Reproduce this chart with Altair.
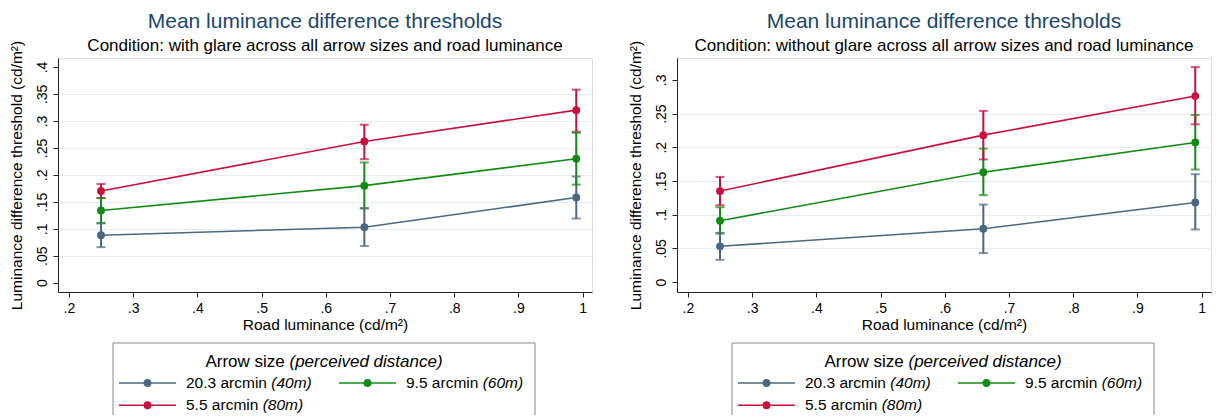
import altair as alt
import pandas as pd

# ---------------- data ----------------
road_luminance = [0.25, 0.66, 0.99]
arrow_sizes = ["20.3 arcmin", "9.5 arcmin", "5.5 arcmin"]
distances = ["(40m)", "(60m)", "(80m)"]
series_colors = ["#4a6882", "#148a16", "#c8103e"]

# with glare
glare_203_mean = [0.088, 0.103, 0.158]
glare_203_lo = [0.066, 0.068, 0.119]
glare_203_hi = [0.110, 0.138, 0.197]
glare_95_mean = [0.134, 0.180, 0.230]
glare_95_lo = [0.111, 0.138, 0.182]
glare_95_hi = [0.157, 0.223, 0.278]
glare_55_mean = [0.170, 0.262, 0.320]
glare_55_lo = [0.157, 0.229, 0.280]
glare_55_hi = [0.183, 0.293, 0.358]

# without glare
noglare_203_mean = [0.053, 0.079, 0.118]
noglare_203_lo = [0.033, 0.043, 0.078]
noglare_203_hi = [0.073, 0.115, 0.160]
noglare_95_mean = [0.091, 0.163, 0.207]
noglare_95_lo = [0.072, 0.129, 0.167]
noglare_95_hi = [0.111, 0.198, 0.248]
noglare_55_mean = [0.135, 0.218, 0.276]
noglare_55_lo = [0.114, 0.182, 0.234]
noglare_55_hi = [0.156, 0.254, 0.319]

x_ticks = [0.2, 0.3, 0.4, 0.5, 0.6, 0.7, 0.8, 0.9, 1.0]
y_ticks_glare = [0, 0.05, 0.1, 0.15, 0.2, 0.25, 0.3, 0.35, 0.4]
y_ticks_noglare = [0, 0.05, 0.1, 0.15, 0.2, 0.25, 0.3]

FONT = "Liberation Sans"
TITLE_COLOR = "#1a476f"
GRID_COLOR = "#e4eef1"
AXIS_COLOR = "#222222"

ARIAL_W = {ch: 0.556 for ch in "0123456789"}
ARIAL_W.update({'.': .278, ' ': .278, '(': .333, ')': .333, 'a': .556, 'r': .333,
                'c': .5, 'm': .833, 'i': .222, 'n': .556, 'A': .667, 'o': .556,
                'w': .722, 's': .5, 'z': .5, 'e': .556, 'p': .556, 'v': .5,
                'd': .556, 't': .278})

ONE = pd.DataFrame({"k": [0]})  # single row for decorative legend marks


def text_w(s, fs):
    return sum(ARIAL_W.get(ch, 0.55) for ch in s) * fs


def build_df(means, los, his):
    rows = []
    for name, m, lo, hi in zip(arrow_sizes, means, los, his):
        for x, a, b, c in zip(road_luminance, m, lo, hi):
            rows.append({"road": x, "series": name, "mean": a, "lo": b, "hi": c})
    return pd.DataFrame(rows)


def panel(subtitle, df, y_domain, y_ticks, width, height):
    y_title = "Luminance difference threshold (cd/m²)"
    x_title = "Road luminance (cd/m²)"
    xscale = alt.Scale(domain=[0.183, 1.0145], nice=False, zero=False)
    yscale = alt.Scale(domain=y_domain, nice=False, zero=False)
    top = max(y_ticks)
    xaxis = alt.Axis(values=x_ticks, grid=False, labelExpr="replace(format(datum.value, '.2~f'), '0.', '.')",
                     labelFontSize=14, titleFontSize=15.5, labelPadding=4, titlePadding=2,
                     labelFontWeight="normal", titleFontWeight="normal",
                     tickSize=5, domainColor=AXIS_COLOR, tickColor=AXIS_COLOR)
    yaxis = alt.Axis(values=y_ticks, grid=True, gridColor=GRID_COLOR, gridWidth=1.2,
                     gridOpacity={"condition": {"test": f"datum.value == 0 || datum.value >= {top}", "value": 0}, "value": 1},
                     labelExpr="datum.value == 0 ? '0' : replace(format(datum.value, '.2~f'), '0.', '.')",
                     labelAngle=270, labelFontSize=14, titleFontSize=15.5, labelPadding=4,
                     labelFontWeight="normal", titleFontWeight="normal",
                     titlePadding=11, tickSize=5, domainColor=AXIS_COLOR, tickColor=AXIS_COLOR)
    X = alt.X("road:Q", scale=xscale, axis=xaxis, title=x_title)
    color = alt.Color("series:N", scale=alt.Scale(domain=arrow_sizes, range=series_colors), legend=None)
    base = alt.Chart(df)
    lines = base.mark_line(strokeWidth=1.6).encode(
        x=X, y=alt.Y("mean:Q", scale=yscale, axis=yaxis, title=y_title), color=color)
    bars = base.mark_rule(strokeWidth=2).encode(
        x=X, y=alt.Y("lo:Q", scale=yscale, axis=yaxis, title=y_title), y2="hi:Q", color=color)
    cap_lo = base.mark_tick(orient="horizontal", size=9, thickness=2).encode(
        x=X, y=alt.Y("lo:Q", scale=yscale, axis=yaxis, title=y_title), color=color)
    cap_hi = base.mark_tick(orient="horizontal", size=9, thickness=2).encode(
        x=X, y=alt.Y("hi:Q", scale=yscale, axis=yaxis, title=y_title), color=color)
    pts = base.mark_point(filled=True, size=62, opacity=1).encode(
        x=X, y=alt.Y("mean:Q", scale=yscale, axis=yaxis, title=y_title), color=color)

    # ----- custom legend (below plot, pixel layout relative to plot origin) -----
    box_l, box_r, box_t, box_b = 55, 477, 285, 357
    leg = []
    frame = alt.Chart(ONE).mark_rule(color="#8a8a8a", strokeWidth=1)
    leg.append(frame.encode(x=alt.value(box_l), x2=alt.value(box_r), y=alt.value(box_t)))
    leg.append(frame.encode(x=alt.value(box_l), y=alt.value(box_t), y2=alt.value(box_b)))
    leg.append(frame.encode(x=alt.value(box_r), y=alt.value(box_t), y2=alt.value(box_b)))
    tfs = 17
    t_norm, t_ital = "Arrow size ", "(perceived distance)"
    tw = text_w(t_norm, tfs) + text_w(t_ital, tfs)
    tx = (box_l + box_r) / 2 - tw / 2
    ty = 304
    leg.append(alt.Chart(ONE).mark_text(text=t_norm.strip(), align="left", baseline="middle", font=FONT,
                                        fontSize=tfs, fontWeight="normal", color="black").encode(
        x=alt.value(tx), y=alt.value(ty)))
    leg.append(alt.Chart(ONE).mark_text(text=t_ital, align="left", baseline="middle", font=FONT,
                                        fontSize=tfs, fontStyle="italic", fontWeight="normal",
                                        color="black").encode(
        x=alt.value(tx + text_w(t_norm, tfs)), y=alt.value(ty)))
    ifs = 15.5
    for i, (name, dist, col) in enumerate(zip(arrow_sizes, distances, series_colors)):
        c, r = i % 2, i // 2
        x0 = 61 + c * 220
        yy = 325 + r * 22.3
        leg.append(alt.Chart(ONE).mark_rule(color=col, strokeWidth=1.6).encode(
            x=alt.value(x0), x2=alt.value(x0 + 57), y=alt.value(yy)))
        leg.append(alt.Chart(ONE).mark_point(filled=True, size=62, opacity=1, color=col).encode(
            x=alt.value(x0 + 28.5), y=alt.value(yy)))
        leg.append(alt.Chart(ONE).mark_text(text=name, align="left", baseline="middle", font=FONT,
                                            fontSize=ifs, fontWeight="normal", color="black").encode(
            x=alt.value(x0 + 67), y=alt.value(yy)))
        leg.append(alt.Chart(ONE).mark_text(text=dist, align="left", baseline="middle", font=FONT,
                                            fontSize=ifs, fontStyle="italic", fontWeight="normal",
                                            color="black").encode(
            x=alt.value(x0 + 67 + text_w(name + " ", ifs)), y=alt.value(yy)))

    title = alt.TitleParams(text="Mean luminance difference thresholds", subtitle=subtitle,
                            font=FONT, subtitleFont=FONT, fontSize=21, subtitleFontSize=17,
                            color=TITLE_COLOR, subtitleColor="black", fontWeight="normal",
                            subtitleFontWeight="normal", anchor="middle", frame="group",
                            offset=-14, subtitlePadding=6)
    return alt.layer(lines, bars, cap_lo, cap_hi, pts, *leg).properties(
        width=width, height=height, title=title)


left = panel("Condition: with glare across all arrow sizes and road luminance",
             build_df([glare_203_mean, glare_95_mean, glare_55_mean],
                      [glare_203_lo, glare_95_lo, glare_55_lo],
                      [glare_203_hi, glare_95_hi, glare_55_hi]),
             [-0.0172, 0.4167], y_ticks_glare, 534, 234)
right = panel("Condition: without glare across all arrow sizes and road luminance",
              build_df([noglare_203_mean, noglare_95_mean, noglare_55_mean],
                       [noglare_203_lo, noglare_95_lo, noglare_55_lo],
                       [noglare_203_hi, noglare_95_hi, noglare_55_hi]),
              [-0.0148, 0.3325], y_ticks_noglare, 534, 234)

chart = alt.hconcat(left, right, spacing=85, bounds="flush").properties(
    padding={"left": 8, "top": 10, "right": 5, "bottom": 0}
).configure_view(stroke=None).configure_axis(
    labelFont=FONT, titleFont=FONT, labelColor="black", titleColor="black",
    titleFontWeight="normal"
).configure(background="white")

chart.save("out.html", embed_options={"renderer": "svg", "actions": False})
